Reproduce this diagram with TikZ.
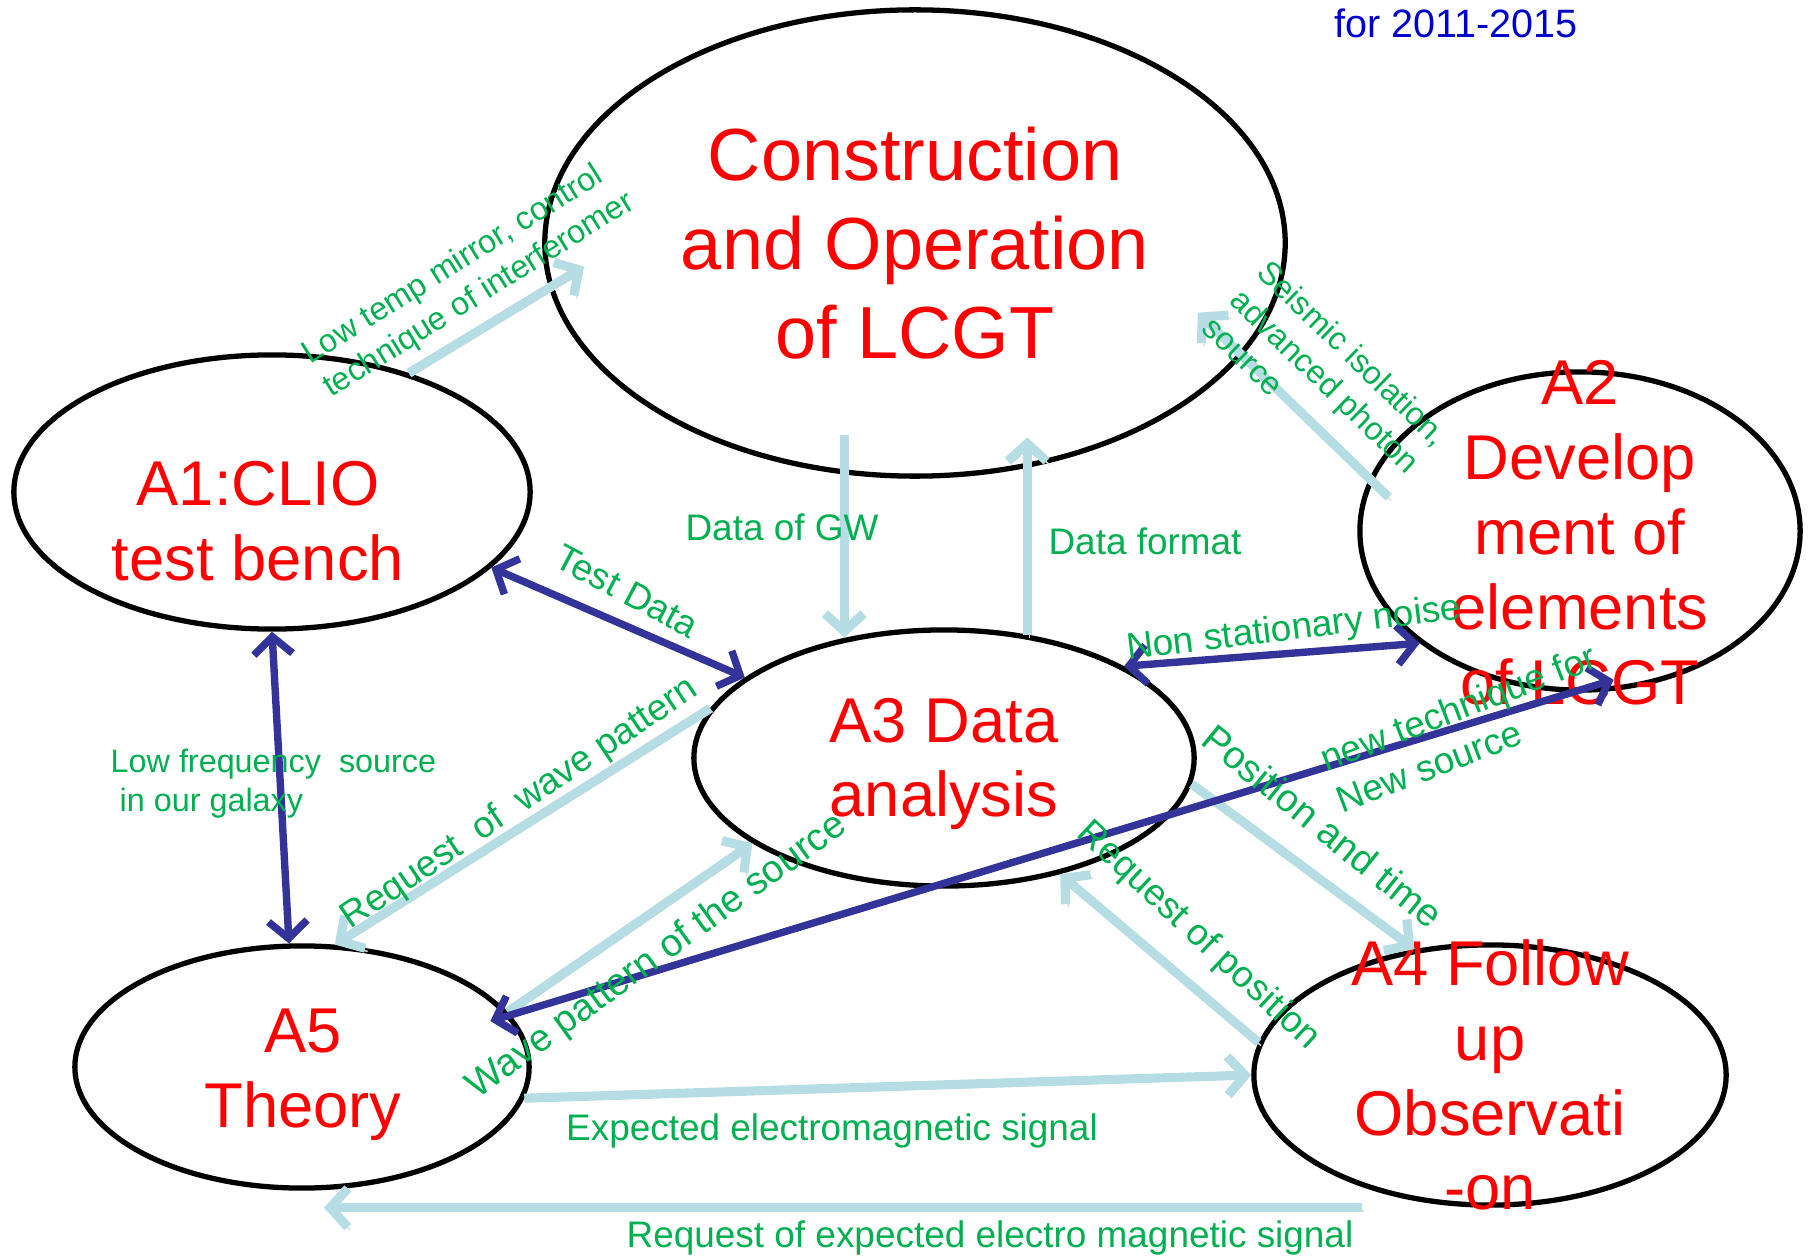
\documentclass[tikz,border=0pt]{standalone}
\usepackage{fontspec}
\setmainfont{Liberation Sans}
\usepackage{tikz}
\usetikzlibrary{arrows.meta, shapes}

\definecolor{lcgtred}{RGB}{255,0,0}
\definecolor{lblgreen}{RGB}{0,176,80}
\definecolor{flowblue}{RGB}{183,221,228}
\definecolor{linkblue}{RGB}{51,51,153}
\definecolor{yearblue}{RGB}{0,0,204}

\begin{document}
\begin{tikzpicture}[x=0.01cm, y=-0.01cm,
  blob/.style={ellipse, draw, line width=1.5pt, inner sep=0pt, text=lcgtred, align=center, font=\fontsize{18}{21.3}\selectfont},
  redtxt/.style={text=lcgtred, align=center, inner sep=0pt, font=\fontsize{18}{21.3}\selectfont},
  lbl/.style={text=lblgreen, font=\fontsize{10.5}{12.6}\selectfont, inner sep=0pt, align=left},
  smalllbl/.style={lbl, font=\fontsize{9.2}{11.1}\selectfont},
  flow/.style={draw=flowblue, line width=2.6pt, -{Straight Barb[length=5pt, width=11pt]},
    preaction={draw=black!14, transform canvas={shift={(0.7pt,-0.9pt)}}}},
  link/.style={draw=linkblue, line width=2.1pt, {Straight Barb[length=5pt, width=11pt]}-{Straight Barb[length=5pt, width=11pt]}}
]
\useasboundingbox (0,0) rectangle (1812,1258);

% draw the groups
\node (C) [blob, minimum width=7.4cm, minimum height=4.66cm, font=\fontsize{21}{25.3}\selectfont] at (915,243) {Construction\\and Operation\\of LCGT};
\node (A1) [blob, minimum width=5.16cm, minimum height=2.74cm] at (272,492) {};
\node (A2) [blob, minimum width=4.4cm, minimum height=3.18cm] at (1580,531) {};
\node (A3) [blob, minimum width=5.0cm, minimum height=2.56cm] at (944,758) {};
\node (A4) [blob, minimum width=4.72cm, minimum height=2.6cm] at (1490,1075) {};
\node (A5) [blob, minimum width=4.54cm, minimum height=2.42cm] at (302,1067) {};

% group names
\node (A1txt) [redtxt] at (258,521) {A1:CLIO\\test bench};
\node (A2txt) [redtxt] at (1580,533) {A2\\Develop\\ment of\\elements\\of LCGT};
\node (A3txt) [redtxt] at (944,764) {A3 Data\\analysis};
\node (A4txt) [redtxt] at (1490,1075) {A4 Follow\\up\\Observati\\-on};
\node (A5txt) [redtxt] at (303,1075) {A5\\Theory};

% light arrows
\draw[flow, shorten >=-0.41cm] (A1.41) -- (C.187);
\draw[flow, shorten <=-0.39cm] (C.-107) -- (C.-107 |- A3.129);
\draw[flow, shorten >=-0.30cm] (A3.56) -- (A3.56 |- C.-63);
\draw[flow, shorten <=-0.27cm, shorten >=-0.62cm] (A2.166) -- (C.-19);
\draw[flow] (A3.168) -- (A5.75);
\draw[flow] (A5.15) -- (A3.204);
\draw[flow] (A3.-6) -- (A4.121);
\draw[flow] (A4.172) -- (A3.-45);
\draw[flow] (A5.-8) -- (A4.180);
\draw[flow] ([xshift=-1.28cm]A4.south) -- ([xshift=0.22cm]A4.south -| A5.south);

% dark arrows
\draw[link] (A1.-19) -- (A3.158);
\draw[link] (A1.-90) -- (A5.96);
\draw[link] (A3.27) -- (A2.215);
\draw[link, shorten <=-0.21cm, shorten >=-0.44cm] (A5.14) -- (A2.-93);

% arrow labels
\node (lowtemp) [smalllbl, rotate=32] at (469,279) {Low temp mirror, control\\technique of interferomer};
\node (seismic) [smalllbl, rotate=-44] at (1326,381) {Seismic isolation,\\advanced photon\\source};
\node (gw) [lbl] at (782,527) {Data of GW};
\node (format) [lbl] at (1145,541) {Data format};
\node (test) [lbl, rotate=-28] at (627,591) {Test Data};
\node (noise) [lbl, rotate=7] at (1294,630) {Non stationary noise};
\node (lowfreq) [smalllbl, anchor=west] at (110,784) {Low frequency\ \ source\\\ in our galaxy};
\node (reqwave) [lbl, rotate=34] at (520,804) {Request\ \ of\ \ wave pattern};
\node (wave) [lbl, rotate=36, font=\fontsize{10.9}{13}\selectfont] at (657,957) {Wave pattern of the source};
\node (newtech) [lbl, rotate=21] at (1466,728) {new technique for\\New source};
\node (postime) [lbl, rotate=-39, font=\fontsize{11}{13.2}\selectfont] at (1323,826) {Position and time};
\node (reqpos) [lbl, rotate=-43] at (1198,936) {Request of position};
\node (expem) [lbl] at (832,1131) {Expected electromagnetic signal};
\node (reqem) [lbl] at (990,1238) {Request of expected electro magnetic signal};

% period
\node (years) [text=yearblue, inner sep=0pt, font=\fontsize{11.25}{13.5}\selectfont] at (1456,23) {for 2011-2015};

\end{tikzpicture}
\end{document}
